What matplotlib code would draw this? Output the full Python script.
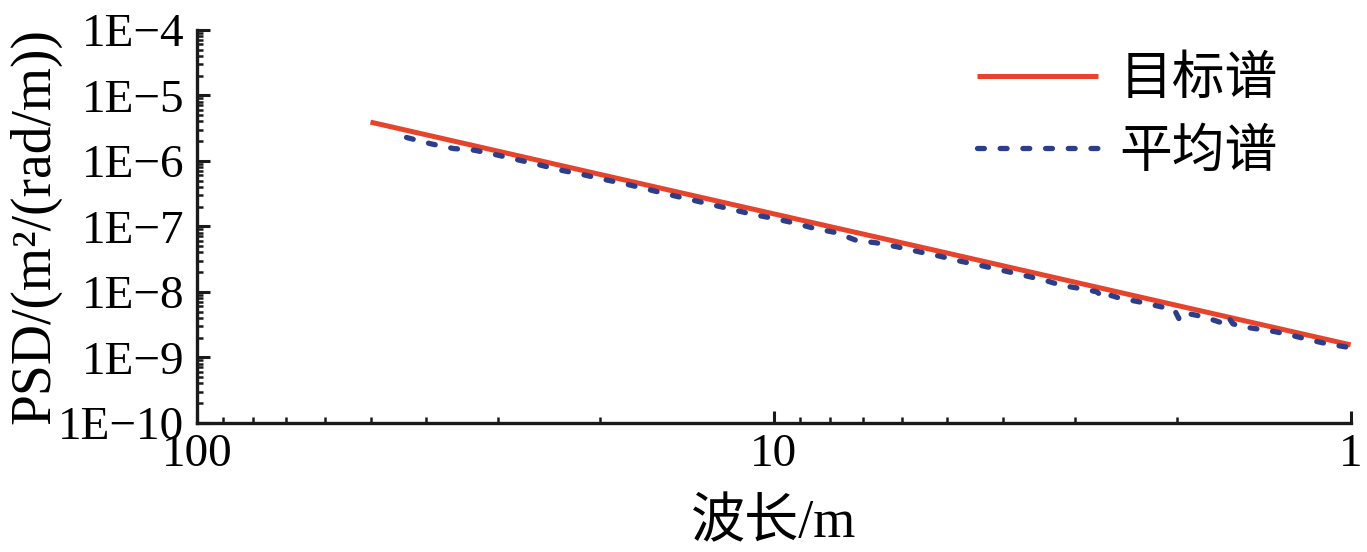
import matplotlib
matplotlib.use("Agg")
import matplotlib.pyplot as plt
import matplotlib.ticker as mticker
import numpy as np

plt.rcParams['font.family'] = ['Liberation Serif', 'Noto Sans CJK SC', 'DejaVu Sans']

# === Data ===
# target spectrum: straight line on log-log axes
target_wl = [50, 20, 10, 5, 2, 1]
target_psd = [3.9e-6, 6.2e-7, 1.55e-7, 3.9e-8, 6.2e-9, 1.55e-9]

# averaged spectrum
avg_wl = [43.3, 39.2, 35.9, 33.0, 30.2, 27.7, 25.5, 23.4, 21.5, 19.7,
          18.2, 16.7, 15.3, 14.05, 12.9, 11.9, 10.9, 10.0, 9.24, 8.47,
          7.79, 7.19, 6.64, 6.12, 5.61, 5.16, 4.75, 4.38, 4.02, 3.69,
          3.40, 3.16, 2.90, 2.75, 2.67, 2.60, 2.52, 2.31, 2.14, 2.02,
          1.985, 1.95, 1.91, 1.80, 1.68, 1.636, 1.60, 1.54, 1.45, 1.35,
          1.25, 1.17, 1.105, 1.014, 1.0]
avg_psd = [2.27e-6, 1.81e-6, 1.54e-6, 1.45e-6, 1.23e-6, 1.03e-6, 8.7e-7, 7.2e-7, 6.2e-7, 5.2e-7,
           4.5e-7, 3.75e-7, 3.1e-7, 2.6e-7, 2.18e-7, 1.84e-7, 1.53e-7, 1.32e-7, 1.13e-7, 9.23e-8,
           8.0e-8, 6.09e-8, 5.6e-8, 4.88e-8, 4.1e-8, 3.51e-8, 2.94e-8, 2.53e-8, 2.13e-8, 1.79e-8,
           1.51e-8, 1.25e-8, 1.10e-8, 9.96e-9, 7.7e-9, 8.8e-9, 8.07e-9, 6.95e-9, 5.96e-9, 5.31e-9,
           3.91e-9, 4.89e-9, 4.64e-9, 4.17e-9, 3.41e-9, 4.36e-9, 3.25e-9, 2.94e-9, 2.71e-9, 2.46e-9,
           2.11e-9, 1.82e-9, 1.63e-9, 1.43e-9, 1.40e-9]

labels = ['目标谱', '平均谱']
red = '#E8432B'
blue = '#2C3E8A'

# === Plot ===
fig = plt.figure(figsize=(13.67, 5.52), dpi=100)
ax = fig.add_axes([0.144, 0.234, 0.844, 0.712])

ax.plot(target_wl, target_psd, color=red, lw=3.6, solid_capstyle='butt', label=labels[0])
ax.plot(avg_wl, avg_psd, color=blue, lw=3.8, linestyle=(0, (1.3, 3.0)),
        dash_capstyle='round', label=labels[1])

ax.set_xscale('log')
ax.set_yscale('log')
ax.set_xlim(100, 1)
ax.set_ylim(1e-10, 1e-4)

ax.xaxis.set_major_locator(mticker.FixedLocator([100, 10, 1]))
ax.xaxis.set_major_formatter(mticker.FixedFormatter(['100', '10', '1']))
ax.xaxis.set_minor_locator(mticker.LogLocator(base=10, subs=np.arange(2, 10)))
ax.xaxis.set_minor_formatter(mticker.NullFormatter())

yt = [10.0 ** e for e in range(-10, -3)]
ax.yaxis.set_major_locator(mticker.FixedLocator(yt))
ax.yaxis.set_major_formatter(mticker.FixedFormatter([f'1E\u2212{-e}' for e in range(-10, -3)]))
ax.yaxis.set_minor_locator(mticker.LogLocator(base=10, subs=np.arange(2, 10), numticks=20))
ax.yaxis.set_minor_formatter(mticker.NullFormatter())

for s in ['top', 'right']:
    ax.spines[s].set_visible(False)
for s in ['left', 'bottom']:
    ax.spines[s].set_linewidth(2.4)
    ax.spines[s].set_color('#1a1a1a')

ax.tick_params(which='major', direction='in', length=9, width=2.2, labelsize=34,
               colors='#1a1a1a')
ax.tick_params(which='minor', direction='in', length=4.5, width=1.8, colors='#1a1a1a')
ax.tick_params(axis='y', which='major', pad=9)
ax.tick_params(axis='x', which='major', pad=8)
for lab in ax.get_xticklabels() + ax.get_yticklabels():
    lab.set_color('black')

ax.set_xlabel('波长/m', fontsize=39, labelpad=16)
ax.set_ylabel('PSD/(m²/(rad/m))', fontsize=40, labelpad=-2)

leg = ax.legend(loc='upper right', bbox_to_anchor=(0.955, 0.985), frameon=False,
                fontsize=38, handlelength=2.3, handletextpad=0.4, labelspacing=0.45,
                borderaxespad=0)

fig.savefig('out.png', dpi=100)
